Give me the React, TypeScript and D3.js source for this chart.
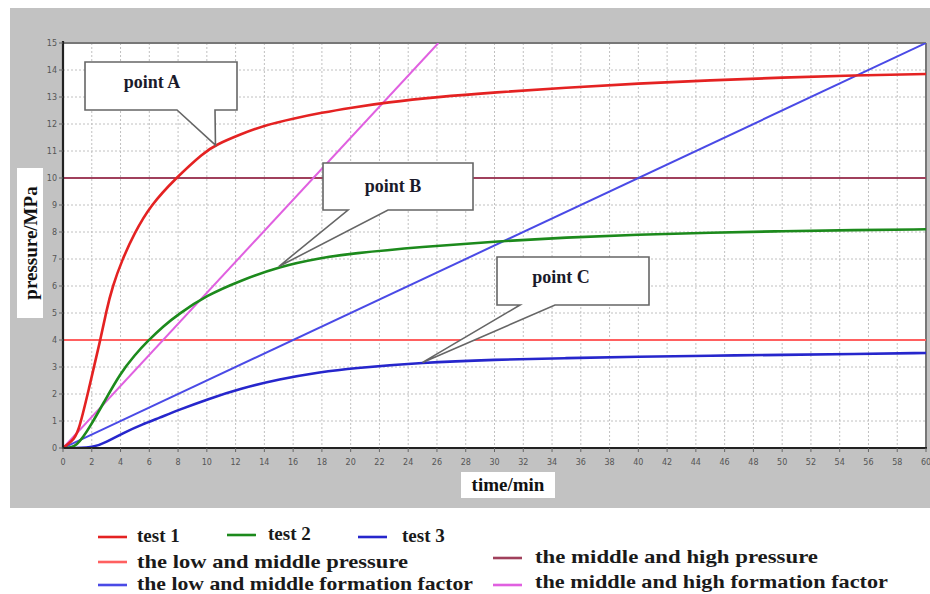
import React from "react";
import * as d3 from "d3";

// Measured pressure curves (time in min, pressure in MPa)
const test1: [number, number][] = [
  [0, 0], [0.6, 0.25], [1.05, 0.5], [1.8, 2.2], [2.6, 4], [3.0, 5.05], [3.45, 6], [4.1, 6.95],
  [4.95, 7.95], [6.1, 9], [7.85, 10], [9.8, 10.95], [10.6, 11.22], [12.35, 11.62],
  [14, 11.95], [16, 12.2], [18, 12.42], [20, 12.6], [22.5, 12.8], [26, 13.0], [30, 13.17],
  [35, 13.35], [40, 13.5], [45, 13.62], [50, 13.72], [55, 13.8], [60, 13.85],
];
const test2: [number, number][] = [
  [0, 0], [0.95, 0], [2, 0.9], [2.8, 1.65], [4, 2.78], [5, 3.45], [5.9, 3.97], [7, 4.52],
  [8, 4.95], [10, 5.66], [12.35, 6.2], [15, 6.72], [18, 7.05], [20, 7.2],
  [25, 7.45], [30, 7.65], [35, 7.8], [40, 7.9], [45, 7.98], [50, 8.03], [55, 8.07], [60, 8.1],
];
const test3: [number, number][] = [
  [0, 0], [2.1, 0], [3, 0.22], [4.35, 0.6], [5.5, 0.87], [6.7, 1.12], [8, 1.4],
  [10, 1.8], [12.35, 2.2], [15, 2.55], [18, 2.82], [20, 2.95], [25, 3.17],
  [30, 3.27], [35, 3.33], [40, 3.38], [45, 3.42], [50, 3.45], [55, 3.48], [60, 3.52],
];

// Reference lines
const lowMidPressure = 4;
const midHighPressure = 10;
const lowMidFactor: [number, number][] = [[0, 0], [60, 15]];
const midHighFactor: [number, number][] = [[0, 0], [26.1, 15]];

const xTicks = d3.range(0, 61, 2);
const yTicks = d3.range(0, 16, 1);

// Callout anchors: [time, series]
const callouts = [
  { label: "point A", t: 10.6, data: test1, box: [85, 62, 237, 110], base: [177, 215], text: [152, 88] },
  { label: "point B", t: 15, data: test2, box: [323, 163, 473, 210], base: [348, 388], text: [393, 192] },
  { label: "point C", t: 25, data: test3, box: [497, 257, 649, 305], base: [520, 555], text: [561, 283] },
];

const legendRow1 = [
  { label: "test 1", color: "#e42222", x: 98, y: 537, tx: 137, ty: 542 },
  { label: "test 2", color: "#1c8a1c", x: 227, y: 535, tx: 268, ty: 540 },
  { label: "test 3", color: "#2626cc", x: 358, y: 537, tx: 402, ty: 542 },
];
const legendRows = [
  { label: "the low and middle pressure", color: "#ff6060", x: 98, y: 562, tx: 137, ty: 568, w: 271 },
  { label: "the middle and high pressure", color: "#a0405c", x: 493, y: 558, tx: 535, ty: 563, w: 283 },
  { label: "the low and middle formation factor", color: "#4a4ae6", x: 98, y: 585, tx: 137, ty: 590, w: 336 },
  { label: "the middle and high formation factor", color: "#e060e0", x: 493, y: 585, tx: 535, ty: 588, w: 353 },
];

const W = 930;
const H = 594;
const plot = { left: 63, right: 926, top: 43, bottom: 448 };

function interp(data: [number, number][], t: number) {
  for (let i = 1; i < data.length; i++) {
    if (data[i][0] >= t) {
      const [x0, y0] = data[i - 1];
      const [x1, y1] = data[i];
      return y0 + ((t - x0) / (x1 - x0)) * (y1 - y0);
    }
  }
  return data[data.length - 1][1];
}

export default function App() {
  const x = d3.scaleLinear().domain([0, 60]).range([plot.left, plot.right]);
  const y = d3.scaleLinear().domain([0, 15]).range([plot.bottom, plot.top]);
  const curve = d3
    .line<[number, number]>()
    .x((d) => x(d[0]))
    .y((d) => y(d[1]))
    .curve(d3.curveBasis);
  const straight = d3.line<[number, number]>().x((d) => x(d[0])).y((d) => y(d[1]));
  const serif = "'Liberation Serif', 'DejaVu Serif', serif";

  return (
    <svg width={W} height={H} style={{ position: "absolute", left: 0, top: 0, background: "#fff" }}>
      <defs>
        <clipPath id="plotClip">
          <rect x={plot.left} y={plot.top} width={plot.right - plot.left} height={plot.bottom - plot.top} />
        </clipPath>
      </defs>
      {/* panel */}
      <rect x={10} y={8} width={920} height={500} fill="#c2c2c2" />
      <rect x={plot.left} y={plot.top} width={plot.right - plot.left} height={plot.bottom - plot.top} fill="#fff" />

      {/* grid */}
      <g stroke="#c0c0c0" strokeWidth={1} strokeDasharray="2,2">
        {xTicks.slice(1, -1).map((t) => (
          <line key={"gx" + t} x1={x(t)} x2={x(t)} y1={plot.top} y2={plot.bottom} />
        ))}
        {yTicks.slice(1, -1).map((t) => (
          <line key={"gy" + t} x1={plot.left} x2={plot.right} y1={y(t)} y2={y(t)} />
        ))}
      </g>

      {/* frame */}
      <line x1={plot.left} x2={plot.right} y1={plot.top} y2={plot.top} stroke="#777" strokeWidth={2} />
      <line x1={plot.right} x2={plot.right} y1={plot.top} y2={plot.bottom} stroke="#777" strokeWidth={2} />

      {/* series */}
      <g clipPath="url(#plotClip)" fill="none">
        <line x1={plot.left} x2={plot.right} y1={y(lowMidPressure)} y2={y(lowMidPressure)} stroke="#ff6060" strokeWidth={2} />
        <line x1={plot.left} x2={plot.right} y1={y(midHighPressure)} y2={y(midHighPressure)} stroke="#a0405c" strokeWidth={2} />
        <path d={straight(lowMidFactor) || ""} stroke="#4a4ae6" strokeWidth={2} />
        <path d={straight(midHighFactor) || ""} stroke="#e060e0" strokeWidth={2} />
        <path d={curve(test3) || ""} stroke="#2626cc" strokeWidth={2.6} />
        <path d={curve(test2) || ""} stroke="#1c8a1c" strokeWidth={2.6} />
        <path d={curve(test1) || ""} stroke="#e42222" strokeWidth={2.6} />
      </g>

      {/* axes */}
      <line x1={plot.left} x2={plot.left} y1={plot.top - 2} y2={plot.bottom + 1} stroke="#222" strokeWidth={2.2} />
      <line x1={plot.left - 1} x2={plot.right + 1} y1={plot.bottom} y2={plot.bottom} stroke="#222" strokeWidth={2.2} />
      <g fontFamily="'DejaVu Sans', sans-serif" fontSize={8} fill="#555">
        {yTicks.map((t) => (
          <g key={"yt" + t}>
            <line x1={plot.left - 4} x2={plot.left} y1={y(t)} y2={y(t)} stroke="#666" strokeWidth={1} />
            <text x={plot.left - 6} y={y(t)} dy="0.35em" textAnchor="end">{t}</text>
          </g>
        ))}
        {xTicks.map((t) => (
          <g key={"xt" + t}>
            <line x1={x(t)} x2={x(t)} y1={plot.bottom} y2={plot.bottom + 4} stroke="#666" strokeWidth={1} />
            <text x={x(t)} y={plot.bottom + 14} dy="0.35em" textAnchor="middle">{t}</text>
          </g>
        ))}
      </g>

      {/* axis titles */}
      <rect x={17} y={168} width={26} height={150} fill="#fff" />
      <text transform="translate(37,243) rotate(-90)" textAnchor="middle" fontFamily={serif} fontWeight="bold" fontSize={19} fill="#111">pressure/MPa</text>
      <rect x={461} y={472} width={94} height={26} fill="#fff" />
      <text x={508} y={491} textAnchor="middle" fontFamily={serif} fontWeight="bold" fontSize={19} fill="#111">time/min</text>

      {/* callouts */}
      {callouts.map((c) => {
        const [x0, y0, x1, y1] = c.box;
        const tx = x(c.t);
        const ty = y(interp(c.data, c.t));
        const [b0, b1] = c.base;
        const pts = [[x0, y0], [x1, y0], [x1, y1], [b1, y1], [tx, ty], [b0, y1], [x0, y1]];
        return (
          <g key={c.label}>
            <polygon points={pts.map((p) => p.join(",")).join(" ")} fill="#fff" stroke="#666" strokeWidth={1.6} strokeLinejoin="miter" />
            <text x={c.text[0]} y={c.text[1]} textAnchor="middle" fontFamily={serif} fontWeight="bold" fontSize={18} fill="#1a1a2a">{c.label}</text>
          </g>
        );
      })}

      {/* legend */}
      <g fontFamily={serif} fontWeight="bold" fontSize={19} fill="#1a1a1a">
        {legendRow1.map((l) => (
          <g key={l.label}>
            <line x1={l.x} x2={l.x + 29} y1={l.y} y2={l.y} stroke={l.color} strokeWidth={2.6} />
            <text x={l.tx} y={l.ty}>{l.label}</text>
          </g>
        ))}
        {legendRows.map((l) => (
          <g key={l.label}>
            <line x1={l.x} x2={l.x + 29} y1={l.y} y2={l.y} stroke={l.color} strokeWidth={2.6} />
            <text x={l.tx} y={l.ty} textLength={l.w} lengthAdjust="spacingAndGlyphs">{l.label}</text>
          </g>
        ))}
      </g>
    </svg>
  );
}
